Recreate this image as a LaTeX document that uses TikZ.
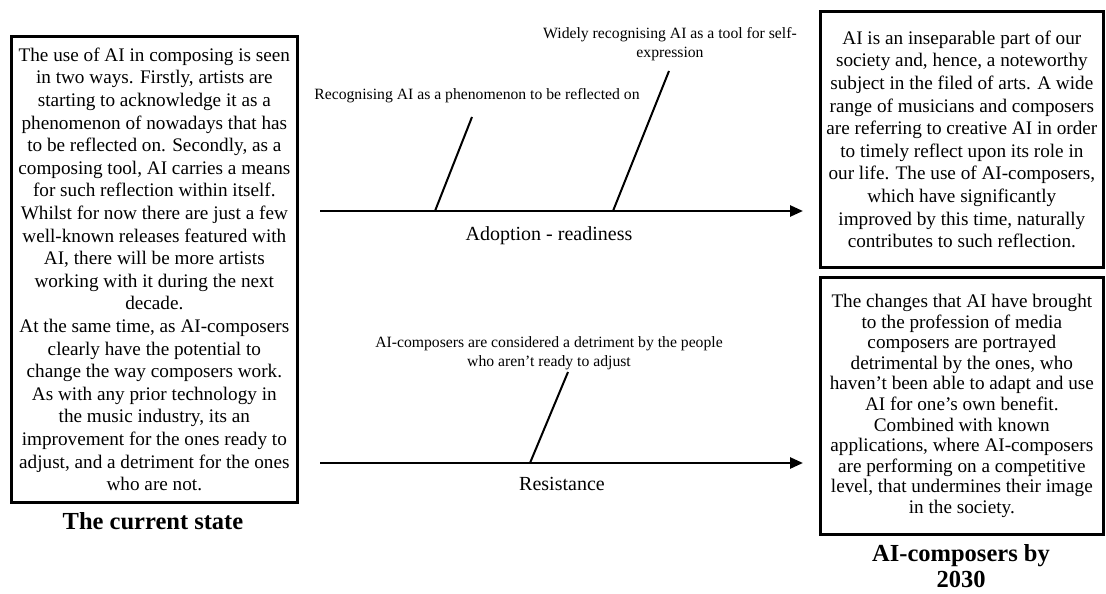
\documentclass[tikz,border=0pt]{standalone}
\usepackage{fontspec}
\setmainfont{Liberation Serif}
\usetikzlibrary{arrows.meta}
\begin{document}
\begin{tikzpicture}[x=1pt,y=-1pt,
  box/.style={draw, line width=2.7pt, align=center, inner sep=0pt},
  boxfont/.style={font=\fontsize{19.2}{22.6}\selectfont},
  boxfonttight/.style={font=\fontsize{19.2}{20.6}\selectfont},
  titletext/.style={font=\bfseries\fontsize{24.5}{25.5}\selectfont, align=center},
  axislabel/.style={font=\fontsize{20}{24}\selectfont},
  branchlabel/.style={font=\fontsize{15.7}{19}\selectfont, align=center},
  axisline/.style={line width=2.6pt, -{Triangle[length=13pt,width=11pt]}},
  branchline/.style={line width=2pt}]
\useasboundingbox (0,0) rectangle (1106,594);

% left box
\node[box, boxfont, minimum width=286, minimum height=466, anchor=north west] (cur) at (10,35)
{The use of AI in composing is seen\\
in two ways. Firstly, artists are\\
starting to acknowledge it as a\\
phenomenon of nowadays that has\\
to be reflected on. Secondly, as a\\
composing tool, AI carries a means\\
for such reflection within itself.\\
Whilst for now there are just a few\\
well-known releases featured with\\
AI, there will be more artists\\
working with it during the next\\
decade.\\
At the same time, as AI-composers\\
clearly have the potential to\\
change the way composers work.\\
As with any prior technology in\\
the music industry, its an\\
improvement for the ones ready to\\
adjust, and a detriment for the ones\\
who are not.};
\node[titletext] (curT) at (153,521) {The current state};

% right top box
\node[box, boxfont, minimum width=283, minimum height=256, anchor=north west] (fut1) at (819,10)
{AI is an inseparable part of our\\
society and, hence, a noteworthy\\
subject in the filed of arts. A wide\\
range of musicians and composers\\
are referring to creative AI in order\\
to timely reflect upon its role in\\
our life. The use of AI-composers,\\
which have significantly\\
improved by this time, naturally\\
contributes to such reflection.};

% right bottom box
\node[box, boxfonttight, minimum width=283, minimum height=257, anchor=north west] (fut2) at (819,276)
{The changes that AI have brought\\
to the profession of media\\
composers are portrayed\\
detrimental by the ones, who\\
haven’t been able to adapt and use\\
AI for one’s own benefit.\\
Combined with known\\
applications, where AI-composers\\
are performing on a competitive\\
level, that undermines their image\\
in the society.};
\node[titletext] (futT) at (961,566) {AI-composers by\\2030};

% axis 1
\coordinate (a1s) at (320,211);
\coordinate (a1e) at (803,211);
\draw[axisline] (a1s) -- (a1e);
\node[axislabel] (adl) at (549,236) {Adoption - readiness};
\coordinate (b1s) at (435,211);
\coordinate (b1e) at (472,117);
\draw[branchline] (b1s) -- (b1e);
\node[branchlabel] (b1l) at (477,96) {Recognising AI as a phenomenon to be reflected on};
\coordinate (b2s) at (613,211);
\coordinate (b2e) at (669,71);
\draw[branchline] (b2s) -- (b2e);
\node[branchlabel] (b2l) at (670,44.5) {Widely recognising AI as a tool for self-\\expression};

% axis 2
\coordinate (a2s) at (320,463);
\coordinate (a2e) at (803,463);
\draw[axisline] (a2s) -- (a2e);
\node[axislabel] (resl) at (562,484) {Resistance};
\coordinate (b3s) at (530,463);
\coordinate (b3e) at (568,372);
\draw[branchline] (b3s) -- (b3e);
\node[branchlabel] (b3l) at (549,353.5) {AI-composers are considered a detriment by the people\\who aren’t ready to adjust};
\end{tikzpicture}
\end{document}
